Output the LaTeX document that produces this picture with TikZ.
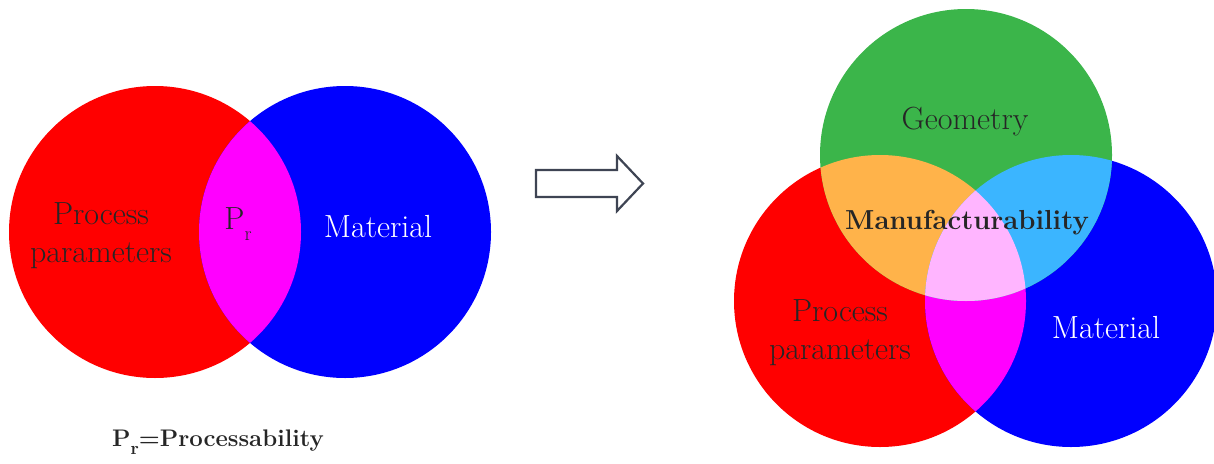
\documentclass[tikz,border=0pt]{standalone}
\usepackage{fontspec}
\usepackage{xcolor}
\definecolor{SetRed}{HTML}{FF0000}
\definecolor{SetBlue}{HTML}{0000FF}
\definecolor{SetGreen}{HTML}{3BB54A}
\definecolor{Magenta}{HTML}{FF00FF}
\definecolor{Orange}{HTML}{FFB34A}
\definecolor{SkyBlue}{HTML}{3BB5FF}
\definecolor{Pink}{HTML}{FFB5FF}
\definecolor{Ink}{HTML}{262626}
\definecolor{Edge}{HTML}{3E4453}
\usepackage{tikz}
\newcommand{\subr}[1]{\raisebox{-.75ex}{\fontsize{#1}{#1}\selectfont r}}

\begin{document}
\begin{tikzpicture}[x=1pt,y=-1pt,
  setlabel/.style={align=center,text=Ink,font=\fontsize{32}{38}\selectfont},
  blockarrow/.style={draw=Edge,line width=2.2pt,line join=miter,fill=white}
]
  \useasboundingbox (0,0) rectangle (1214,463);

  % left: two sets
  \coordinate (pp) at (155,232);
  \coordinate (mat) at (345,232);
  \fill[SetRed] (pp) circle[radius=146pt];
  \fill[SetBlue] (mat) circle[radius=146pt];
  \begin{scope}
    \clip (pp) circle[radius=146pt];
    \fill[Magenta] (mat) circle[radius=146pt];
  \end{scope}
  \node[setlabel] (ppText) at (101,236) {Process\\parameters};
  \node[setlabel] (prText) at (238,224) {P\subr{20}};
  \node[setlabel,text=white] (matText) at (378,227) {Material};
  \node[setlabel,font=\bfseries\fontsize{24}{28}\selectfont] (prDef) at (218,442) {P\subr{18}=Processability};

  % arrow
  \draw[blockarrow] (536,170) -- (617,170) -- (617,156) -- (643,183.5)
    -- (617,211) -- (617,197) -- (536,197) -- cycle;

  % right: three sets
  \coordinate (geo) at (966,155);
  \coordinate (pp2) at (880,301);
  \coordinate (mat2) at (1071,301);
  \fill[SetRed] (pp2) circle[radius=146pt];
  \fill[SetBlue] (mat2) circle[radius=146pt];
  \fill[SetGreen] (geo) circle[radius=146pt];
  \begin{scope}
    \clip (pp2) circle[radius=146pt];
    \fill[Magenta] (mat2) circle[radius=146pt];
    \fill[Orange] (geo) circle[radius=146pt];
  \end{scope}
  \begin{scope}
    \clip (geo) circle[radius=146pt];
    \fill[SkyBlue] (mat2) circle[radius=146pt];
  \end{scope}
  \begin{scope}
    \clip (pp2) circle[radius=146pt];
    \clip (geo) circle[radius=146pt];
    \fill[Pink] (mat2) circle[radius=146pt];
  \end{scope}
  \node[setlabel] (geoText) at (965,122) {Geometry};
  \node[setlabel,font=\bfseries\fontsize{27.5}{32}\selectfont] (mfgText) at (967,223) {Manufacturability};
  \node[setlabel] (pp2Text) at (840,333) {Process\\parameters};
  \node[setlabel,text=white] (mat2Text) at (1106,328) {Material};
\end{tikzpicture}
\end{document}
